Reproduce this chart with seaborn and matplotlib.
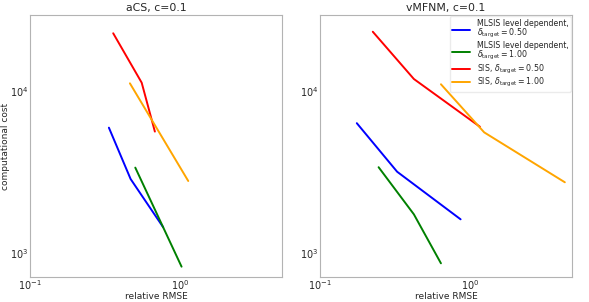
import matplotlib
matplotlib.use("Agg")
import matplotlib.pyplot as plt
import seaborn as sns
import pandas as pd

titles = ["aCS, c=0.1", "vMFNM, c=0.1"]
labels = ["MLSIS level dependent,\n$\\delta_{\\mathrm{target}}=0.50$",
          "MLSIS level dependent,\n$\\delta_{\\mathrm{target}}=1.00$",
          "SIS, $\\delta_{\\mathrm{target}}=0.50$",
          "SIS, $\\delta_{\\mathrm{target}}=1.00$"]
colors = ["blue", "green", "red", "orange"]

# aCS panel
acs_blue_x = [0.336, 0.469, 0.774]
acs_blue_y = [5910, 2850, 1435]
acs_green_x = [0.504, 1.026]
acs_green_y = [3350, 820]
acs_red_x = [0.359, 0.556, 0.681]
acs_red_y = [22600, 11200, 5590]
acs_orange_x = [0.464, 1.137]
acs_orange_y = [11100, 2770]

# vMFNM panel
vmf_blue_x = [0.176, 0.327, 0.867]
vmf_blue_y = [6300, 3160, 1607]
vmf_green_x = [0.246, 0.423, 0.641]
vmf_green_y = [3370, 1725, 860]
vmf_red_x = [0.225, 0.423, 1.166]
vmf_red_y = [23100, 11800, 5990]
vmf_orange_x = [0.641, 1.245, 4.30]
vmf_orange_y = [10950, 5530, 2720]

panels = [
    [(acs_blue_x, acs_blue_y), (acs_green_x, acs_green_y),
     (acs_red_x, acs_red_y), (acs_orange_x, acs_orange_y)],
    [(vmf_blue_x, vmf_blue_y), (vmf_green_x, vmf_green_y),
     (vmf_red_x, vmf_red_y), (vmf_orange_x, vmf_orange_y)],
]

sns.set_style("white", {"axes.edgecolor": "0.7", "xtick.color": "0.75",
                        "ytick.color": "0.75"})
plt.rcParams["font.family"] = ["DejaVu Sans"]

fig = plt.figure(figsize=(5.89, 3.02), dpi=100)
axes = [fig.add_axes([30/589, 25/302, 252/589, 262/302]),
        fig.add_axes([320/589, 25/302, 252/589, 262/302])]

for ax, title, series in zip(axes, titles, panels):
    for (xs, ys), lab, col in zip(series, labels, colors):
        df = pd.DataFrame({"x": xs, "y": ys})
        sns.lineplot(data=df, x="x", y="y", ax=ax, color=col, label=lab,
                     linewidth=1.4, sort=False, estimator=None)
    ax.set_xscale("log")
    ax.set_yscale("log")
    ax.set_xlim(0.1, 4.8)
    ax.set_ylim(708, 29300)
    ax.set_title(title, fontsize=7.8, pad=3)
    ax.set_xlabel("relative RMSE", fontsize=6.5, labelpad=0)
    ax.tick_params(axis="both", which="both", direction="in", labelsize=7,
                   labelcolor="0.15", pad=1, length=2)
    ax.tick_params(axis="both", which="major", length=0)
    for s in ax.spines.values():
        s.set_linewidth(0.8)

axes[0].set_ylabel("computational cost", fontsize=6.5, labelpad=0)
axes[1].set_ylabel("")
axes[0].get_legend().remove()
leg = axes[1].legend(loc="upper right", fontsize=5.7, frameon=True,
                     handlelength=2.3, borderaxespad=0.15, labelspacing=0.05,
                     borderpad=0.3, handletextpad=0.8)
for t in leg.get_texts():
    t.set_linespacing(0.95)
leg.get_frame().set_edgecolor("0.9")

fig.savefig("out.png", dpi=100)
